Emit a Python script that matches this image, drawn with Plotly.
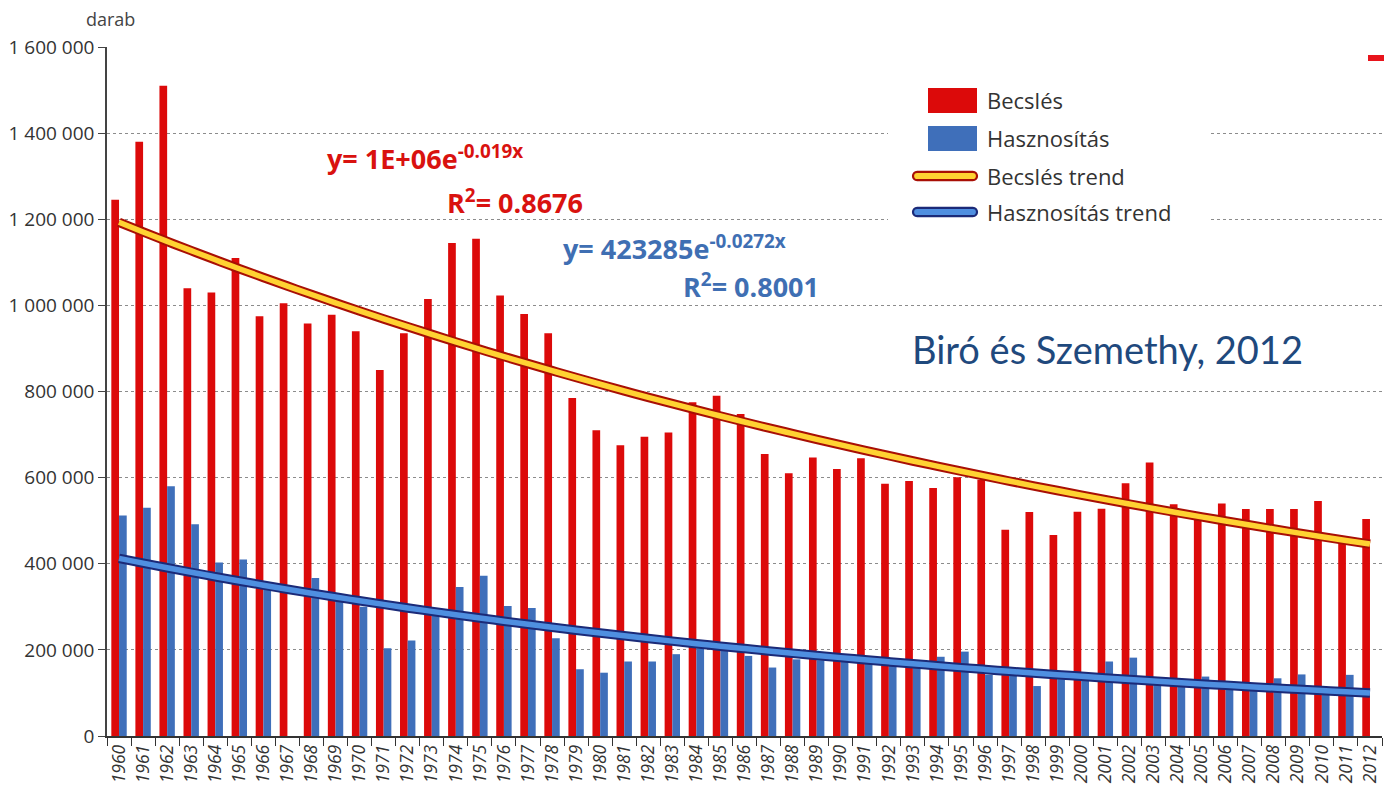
import numpy as np
import plotly.graph_objects as go

# ---------------- data ----------------
years = [str(y) for y in range(1960, 2013)]

becsles = [1245000, 1380000, 1510000, 1040000, 1030000, 1110000, 975000, 1005000, 958000, 978000,
           940000, 850000, 935000, 1015000, 1145000, 1155000, 1023000, 980000, 935000, 785000,
           710000, 675000, 695000, 705000, 775000, 790000, 748000, 655000, 610000, 647000,
           620000, 645000, 586000, 592000, 576000, 601000, 595000, 479000, 520000, 467000,
           521000, 528000, 587000, 635000, 538000, 515000, 540000, 527000, 527000, 527000,
           546000, 449000, 504000]

hasznositas = [512000, 530000, 580000, 492000, 403000, 410000, 340000, None, 367000, 320000,
               300000, 204000, 222000, 280000, 346000, 372000, 302000, 297000, 227000, 155000,
               147000, 173000, 173000, 190000, 204000, 198000, 186000, 159000, 178000, 176000,
               173000, 170000, 163000, 161000, 184000, 196000, 142000, 142000, 116000, 132000,
               130000, 173000, 182000, 119000, 119000, 138000, 112000, 112000, 134000, 143000,
               100000, 142000, None]

y_tickvals = [0, 200000, 400000, 600000, 800000, 1000000, 1200000, 1400000, 1600000]
y_ticktext = ["0", "200 000", "400 000", "600 000", "800 000", "1 000 000", "1 200 000", "1 400 000", "1 600 000"]

eq_becsles = "<b>y= 1E+06e<sup>-0.019x</sup></b>"
r2_becsles = "<b>R<sup>2</sup>= 0.8676</b>"
eq_haszn = "<b>y= 423285e<sup>-0.0272x</sup></b>"
r2_haszn = "<b>R<sup>2</sup>= 0.8001</b>"

legend_labels = ["Becslés", "Hasznosítás", "Becslés trend", "Hasznosítás trend"]
source_text = "Biró és Szemethy, 2012"
unit_text = "darab"


# exponential trend (least squares on log values, x = 1..n, like a spreadsheet trendline)
def exp_trend(vals):
    xs = np.arange(1, len(vals) + 1, dtype=float)
    v = np.array([np.nan if a is None else a for a in vals], dtype=float)
    m = ~np.isnan(v)
    b, lna = np.polyfit(xs[m], np.log(v[m]), 1)
    return np.exp(lna + b * xs)


trend_becsles = exp_trend(becsles)
trend_haszn = exp_trend(hasznositas)

# ---------------- style ----------------
RED = "#dc0a0a"
BLUE = "#3f6fba"
YELLOW = "#ffd232"
RED_EDGE = "#a80f05"
LBLUE = "#4f8fe0"
BLUE_EDGE = "#1b2a78"
TXT = "#333333"

W, H = 1384, 786
L, R, T, B = 107, 2, 47, 50
PW = W - L - R
PH = H - T - B


def px(x):
    return (x - L) / PW


def py(y):
    return (H - B - y) / PH


fig = go.Figure()
fig.add_bar(x=years, y=becsles, marker=dict(color=RED, line=dict(width=0)), name=legend_labels[0],
            showlegend=False)
fig.add_bar(x=years, y=hasznositas, marker=dict(color=BLUE, line=dict(width=0)), name=legend_labels[1],
            showlegend=False)

for tr, edge, fill, nm in [(trend_becsles, RED_EDGE, YELLOW, legend_labels[2]),
                           (trend_haszn, BLUE_EDGE, LBLUE, legend_labels[3])]:
    fig.add_scatter(x=years, y=tr, mode="lines", line=dict(color=edge, width=9.5, shape="spline"),
                    showlegend=False, hoverinfo="skip")
    fig.add_scatter(x=years, y=tr, mode="lines", line=dict(color=fill, width=5.5, shape="spline"),
                    showlegend=False, name=nm)

fig.update_layout(
    width=W, height=H,
    margin=dict(l=L, r=R, t=T, b=B, pad=0),
    paper_bgcolor="white", plot_bgcolor="white",
    barmode="group", bargap=0.36, bargroupgap=0.0,
    showlegend=False,
    font=dict(family="Open Sans", color=TXT),
)

fig.update_yaxes(
    range=[0, 1600000], tickvals=y_tickvals, ticktext=y_ticktext,
    showgrid=True, gridcolor="#8c8c8c", griddash="dot", gridwidth=1,
    showline=True, linecolor="#444444", linewidth=1.5,
    ticks="outside", ticklen=7, tickcolor="#444444", tickwidth=1.3,
    tickfont=dict(size=19, color=TXT, family="Open Sans"),
    zeroline=False, fixedrange=True,
)
fig.update_xaxes(
    type="category", tickson="boundaries", ticks="outside", ticklen=8, tickcolor="#333333", tickwidth=1.3,
    showline=True, linecolor="#333333", linewidth=1.5, showgrid=False,
    tickangle=-90, tickfont=dict(size=17.5, color=TXT, family="Open Sans", style="italic"),
    range=[-0.5, len(years) - 0.5], fixedrange=True,
)

shapes = []
# white box behind the legend (hides gridlines)
shapes.append(dict(type="rect", xref="paper", yref="paper", x0=px(888), x1=px(1210), y0=py(240), y1=py(62),
                   fillcolor="white", line=dict(width=0), layer="above"))
# legend swatches
shapes.append(dict(type="rect", xref="paper", yref="paper", x0=px(928), x1=px(977), y0=py(113), y1=py(88),
                   fillcolor=RED, line=dict(width=0)))
shapes.append(dict(type="rect", xref="paper", yref="paper", x0=px(928), x1=px(977), y0=py(151), y1=py(126),
                   fillcolor=BLUE, line=dict(width=0)))


def capsule(x0, x1, yc, r):
    k = 4.0 * r / 3.0
    pts = [
        ("M", [(x0 + r, yc - r)]),
        ("L", [(x1 - r, yc - r)]),
        ("C", [(x1 - r + k, yc - r), (x1 - r + k, yc + r), (x1 - r, yc + r)]),
        ("L", [(x0 + r, yc + r)]),
        ("C", [(x0 + r - k, yc + r), (x0 + r - k, yc - r), (x0 + r, yc - r)]),
    ]
    s = ""
    for cmd, ps in pts:
        s += cmd + " " + " ".join(f"{px(a):.5f},{py(b):.5f}" for a, b in ps) + " "
    return s + "Z"


shapes.append(dict(type="path", xref="paper", yref="paper", path=capsule(913, 977, 176, 4.2),
                   fillcolor=YELLOW, line=dict(color=RED_EDGE, width=2.2)))
shapes.append(dict(type="path", xref="paper", yref="paper", path=capsule(913, 977, 212, 4.2),
                   fillcolor=LBLUE, line=dict(color=BLUE_EDGE, width=2.2)))
# small red mark top right
shapes.append(dict(type="rect", xref="paper", yref="paper", x0=px(1368), x1=px(1384), y0=py(61), y1=py(55),
                   fillcolor="#e8141c", line=dict(width=0)))
fig.update_layout(shapes=shapes)

ann = []
ann.append(dict(text=unit_text, x=px(110), y=py(19), xanchor="center", yanchor="middle",
                font=dict(size=18, color="#444444")))
for i, lab in enumerate(legend_labels):
    ann.append(dict(text=lab, x=px(985), y=py([100, 138, 176, 212][i]), xanchor="left", yanchor="middle",
                    font=dict(size=22, color=TXT)))
ann.append(dict(text=eq_becsles, x=px(325), y=py(157), xanchor="left", yanchor="middle",
                font=dict(size=27, color="#d9120f")))
ann.append(dict(text=r2_becsles, x=px(445), y=py(201), xanchor="left", yanchor="middle",
                font=dict(size=27, color="#d9120f")))
ann.append(dict(text=eq_haszn, x=px(561), y=py(247), xanchor="left", yanchor="middle",
                font=dict(size=27, color="#3f6fb3")))
ann.append(dict(text=r2_haszn, x=px(681), y=py(285), xanchor="left", yanchor="middle",
                font=dict(size=27, color="#3f6fb3")))
ann.append(dict(text=source_text, x=px(910), y=py(349), xanchor="left", yanchor="middle",
                font=dict(size=38, color="#1f497d", family="Lato")))
for a in ann:
    a.update(xref="paper", yref="paper", showarrow=False)
fig.update_layout(annotations=ann)

fig.write_html("out.html", config={"displayModeBar": False},
               post_script="document.body.style.margin='0px';document.body.style.overflow='hidden';")
